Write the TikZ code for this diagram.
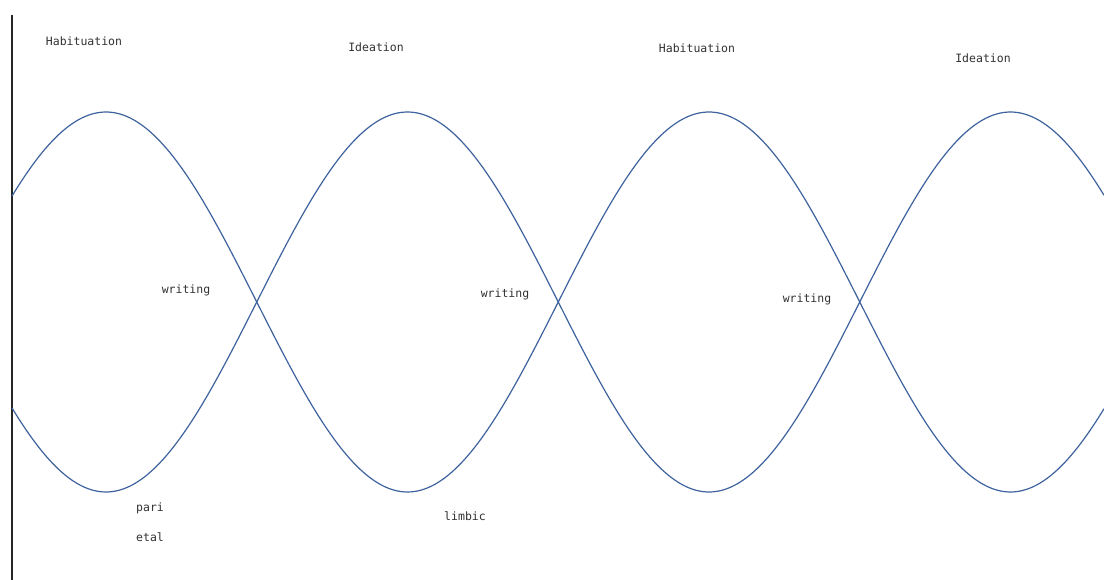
\documentclass[tikz,border=0pt]{standalone}
\usepackage{fontspec}
\setmonofont{DejaVu Sans Mono}
\definecolor{wave}{RGB}{62,98,158}
\definecolor{labelc}{RGB}{50,50,50}
\begin{document}
\begin{tikzpicture}[x=1pt,y=-1pt,
  lbl/.style={font=\ttfamily\fontsize{11.5}{13}\selectfont, text=labelc, inner sep=0pt},
  wavepath/.style={draw=wave, line width=1.2pt},
  axisline/.style={draw=black!85, line width=1.6pt}]
\useasboundingbox (0,0) rectangle (1104,580);
\fill[white] (0,0) rectangle (1104,580);
\coordinate (atop) at (12,15);
\coordinate (abot) at (12,580);
\draw[axisline] (atop) -- (abot);
\draw[wavepath] plot[domain=12:1104, samples=400, smooth] (\x, {302-190*cos(((\x-106)/603)*360)});
\draw[wavepath] plot[domain=12:1104, samples=400, smooth] (\x, {302+190*cos(((\x-106)/603)*360)});
\node[lbl] (hab1) at (84,41) {Habituation};
\node[lbl] (ide1) at (376,47) {Ideation};
\node[lbl] (hab2) at (697,48) {Habituation};
\node[lbl] (ide2) at (983,58) {Ideation};
\node[lbl] (wr1) at (186,290) {writing};
\node[lbl] (wr2) at (505,294) {writing};
\node[lbl] (wr3) at (807,299) {writing};
\node[lbl] (par1) at (150,508) {pari};
\node[lbl] (par2) at (150,537) {etal};
\node[lbl] (lim) at (465,516) {limbic};
\end{tikzpicture}
\end{document}
